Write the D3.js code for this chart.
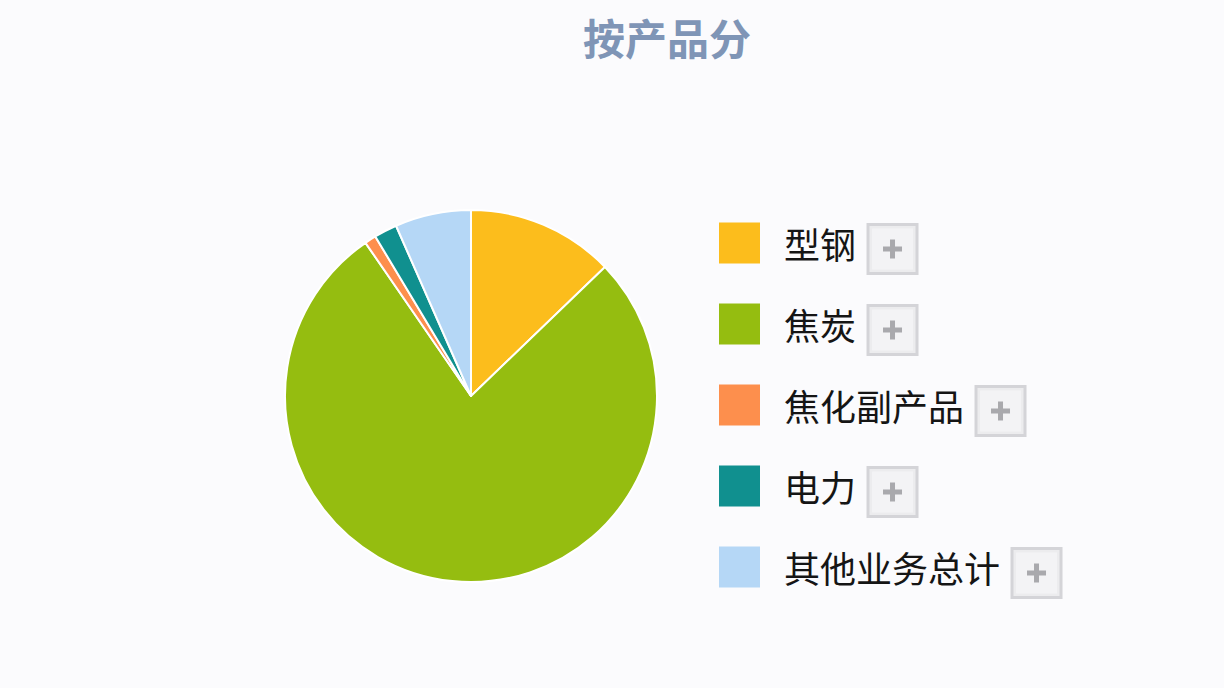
<!DOCTYPE html>
<html lang="zh">
<head>
    <meta charset="UTF-8">
    <title>按产品分</title>
    <style>
        body { margin: 0; background: #fbfbfd; }
        svg { display: block; font-family: "Noto Sans CJK SC", sans-serif; }
        .title { font-size: 42px; font-weight: bold; fill: #7f95b6; }
        .legend-label { font-size: 36px; fill: #151515; }
    </style>
</head>
<body>
    <div id="chart"></div>
    <script src="https://d3js.org/d3.v7.min.js"></script>
    <script>
        const categories = ["型钢", "焦炭", "焦化副产品", "电力", "其他业务总计"];
        const shares = [12.8, 77.6, 1.0, 2.0, 6.6];
        const colors = ["#fcbd1c", "#95bd10", "#fd8f4d", "#10908f", "#b5d7f6"];

        const width = 1224, height = 688;
        const cx = 471, cy = 396, radius = 186;

        const svg = d3.select("#chart")
            .append("svg")
            .attr("width", width)
            .attr("height", height);

        svg.append("text")
            .attr("class", "title")
            .attr("x", 667)
            .attr("y", 55)
            .attr("text-anchor", "middle")
            .text("按产品分");

        const pie = d3.pie().sort(null).value(d => d.value);
        const arc = d3.arc().innerRadius(0).outerRadius(radius);

        const data = categories.map((c, i) => ({ name: c, value: shares[i], color: colors[i] }));

        svg.append("g")
            .attr("transform", `translate(${cx},${cy})`)
            .selectAll("path")
            .data(pie(data))
            .join("path")
            .attr("d", arc)
            .attr("fill", d => d.data.color)
            .attr("stroke", "#ffffff")
            .attr("stroke-width", 2)
            .attr("stroke-linejoin", "round");

        // legend
        const y = d3.scaleBand()
            .domain(categories)
            .range([202, 607]);

        const legend = svg.append("g")
            .selectAll("g")
            .data(data)
            .join("g")
            .attr("transform", d => `translate(719,${y(d.name) + y.bandwidth() / 2})`);

        legend.append("rect")
            .attr("x", 0)
            .attr("y", -20)
            .attr("width", 41)
            .attr("height", 41)
            .attr("fill", d => d.color);

        legend.append("text")
            .attr("class", "legend-label")
            .attr("x", 65)
            .attr("y", 16)
            .text(d => d.name);

        legend.each(function () {
            const g = d3.select(this);
            const tw = g.select("text").node().getComputedTextLength();
            const bx = 65 + tw + 12;
            const box = g.append("g").attr("transform", `translate(${bx},-18)`);
            box.append("rect")
                .attr("width", 49)
                .attr("height", 49)
                .attr("fill", "#ececee")
                .attr("stroke", "#d4d4d8")
                .attr("stroke-width", 3);
            box.append("rect")
                .attr("x", 4)
                .attr("y", 4)
                .attr("width", 41)
                .attr("height", 41)
                .attr("fill", "#f3f3f5");
            box.append("rect")
                .attr("x", 15)
                .attr("y", 22)
                .attr("width", 19)
                .attr("height", 5)
                .attr("fill", "#a9a9ad");
            box.append("rect")
                .attr("x", 22)
                .attr("y", 15)
                .attr("width", 5)
                .attr("height", 19)
                .attr("fill", "#a9a9ad");
        });
    </script>
</body>
</html>
